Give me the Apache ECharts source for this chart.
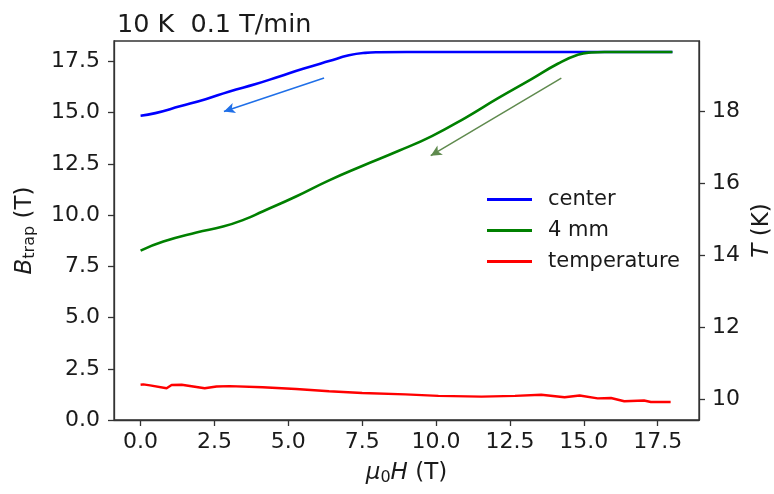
<!DOCTYPE html>
<html>
<head>
<meta charset="utf-8">
<script src="https://cdn.jsdelivr.net/npm/echarts@6/dist/echarts.min.js"></script>
<style>
  html, body { margin: 0; padding: 0; background: #fff; }
  #chart { width: 774px; height: 494px; }
</style>
</head>
<body>
<div id="chart"></div>
<script>
// Trapped field at the centre and 4 mm off-centre while ramping the applied field down (10 K, 0.1 T/min)
const centerH = [0, 0.5, 1.33, 2.2, 3.01, 3.9, 4.70, 5.5, 6.38, 7.05, 7.6, 8.06, 9, 12, 15, 18];
const centerB = [14.85, 14.98, 15.31, 15.66, 16.04, 16.40, 16.77, 17.14, 17.52, 17.80, 17.92, 17.95, 17.96, 17.96, 17.96, 17.96];

const mm4H = [0, 0.77, 1.89, 2.79, 3.5, 4.13, 5.26, 6.38, 7.50, 8.74, 9.86, 10.98, 12.10, 13.23, 14.12, 14.80, 15.25, 15.7, 18];
const mm4B = [8.27, 8.71, 9.15, 9.44, 9.78, 10.18, 10.91, 11.70, 12.40, 13.14, 13.86, 14.74, 15.71, 16.64, 17.39, 17.83, 17.94, 17.96, 17.96];

// Sample temperature (right axis, K)
const tempH = [0, 0.09, 0.32, 0.88, 1.05, 1.39, 2.17, 2.57, 3.01, 4.13, 5.26, 6.38, 7.50, 8.96, 10.08, 11.54, 12.67, 13.56, 14.35, 14.86, 15.47, 15.92, 16.37, 17.04, 17.27, 17.94];
const tempK = [10.41, 10.42, 10.39, 10.31, 10.40, 10.41, 10.31, 10.36, 10.37, 10.34, 10.29, 10.23, 10.18, 10.14, 10.10, 10.08, 10.10, 10.13, 10.06, 10.11, 10.03, 10.04, 9.95, 9.97, 9.93, 9.93];

// Ramp-direction arrows: [tailH, tailB, headH, headB]
const centerArrow = [6.21, 16.69, 2.82, 15.06];
const mm4Arrow = [14.24, 16.69, 9.82, 12.90];

// Tick labels
const xTicks = [0, 2.5, 5, 7.5, 10, 12.5, 15, 17.5];
const bTicks = [0, 2.5, 5, 7.5, 10, 12.5, 15, 17.5];
const tTicks = [10, 12, 14, 16, 18];

const zip = (xs, ys) => xs.map((x, i) => [x, ys[i]]);
const FONT = 'DejaVu Sans';
const INK = '#1a1a1a';
const FRAME = '#333';
const TICK_FS = 22;
const NAME_FS = 23;

const chart = echarts.init(document.getElementById('chart'), null, { renderer: 'canvas' });

const arrowLine = (a, color) => ({
  silent: true,
  symbol: ['none', 'arrow'],
  symbolSize: [8, 11],
  label: { show: false },
  emphasis: { disabled: true },
  animation: false,
  data: [[
    { coord: [a[0], a[1]], lineStyle: { color: color, width: 1.5, type: 'solid' } },
    { coord: [a[2], a[3]] }
  ]]
});

const nameRich = {
  i: { fontFamily: FONT, fontSize: NAME_FS, fontStyle: 'italic', color: INK },
  s: { fontFamily: FONT, fontSize: 16, color: INK, verticalAlign: 'bottom', padding: [10, 0, 0, 0] },
  n: { fontFamily: FONT, fontSize: NAME_FS, color: INK }
};

chart.setOption({
  animation: false,
  backgroundColor: '#fff',
  textStyle: { fontFamily: FONT },
  title: {
    text: '10 K  0.1 T/min',
    left: 112,
    top: 7,
    textStyle: { fontFamily: FONT, fontSize: 25.5, fontWeight: 'normal', color: INK }
  },
  grid: {
    left: 114, right: 75, top: 41, bottom: 74,
    outerBoundsMode: 'none',
    containLabel: false,
    show: true, borderColor: FRAME, borderWidth: 1.3, backgroundColor: 'transparent'
  },
  legend: {
    orient: 'vertical',
    left: 487,
    top: 189,
    padding: 0,
    icon: 'rect',
    itemWidth: 45,
    itemHeight: 3,
    itemGap: 10,
    selectedMode: false,
    textStyle: { fontFamily: FONT, fontSize: 21, color: INK, padding: [0, 0, 0, 11] },
    data: ['center', '4 mm', 'temperature']
  },
  xAxis: {
    type: 'value',
    min: -0.9,
    max: 18.9,
    splitLine: { show: false },
    axisLine: { show: true, onZero: false, lineStyle: { color: FRAME, width: 1.3 } },
    axisTick: { show: true, length: 6, lineStyle: { color: FRAME, width: 1.3 }, customValues: xTicks },
    axisLabel: {
      customValues: xTicks, margin: 11, fontFamily: FONT, fontSize: TICK_FS, color: INK,
      formatter: v => v.toFixed(1)
    },
    name: '{i|μ}{s|0}{i|H}{n| (T)}',
    nameLocation: 'middle',
    nameGap: 40,
    nameTextStyle: { rich: nameRich }
  },
  yAxis: [
    {
      type: 'value',
      position: 'left',
      min: 0,
      max: 18.5,
      splitLine: { show: false },
      axisLine: { show: true, onZero: false, lineStyle: { color: FRAME, width: 1.3 } },
      axisTick: { show: true, length: 6, lineStyle: { color: FRAME, width: 1.3 }, customValues: bTicks },
      axisLabel: {
        customValues: bTicks, margin: 14, fontFamily: FONT, fontSize: TICK_FS, color: INK,
        formatter: v => v.toFixed(1)
      },
      name: '{i|B}{s|trap}{n| (T)}',
      nameLocation: 'middle',
      nameRotate: 90,
      nameGap: 76,
      nameTextStyle: { rich: nameRich }
    },
    {
      type: 'value',
      position: 'right',
      min: 9.43,
      max: 19.95,
      splitLine: { show: false },
      axisLine: { show: true, onZero: false, lineStyle: { color: FRAME, width: 1.3 } },
      axisTick: { show: true, length: 6, lineStyle: { color: FRAME, width: 1.3 }, customValues: tTicks },
      axisLabel: {
        customValues: tTicks, margin: 13, fontFamily: FONT, fontSize: TICK_FS, color: INK,
        formatter: v => String(v)
      },
      name: '{i|T}{n| (K)}',
      nameLocation: 'middle',
      nameRotate: 90,
      nameGap: 50,
      nameTextStyle: { rich: nameRich }
    }
  ],
  series: [
    {
      name: 'center',
      type: 'line',
      yAxisIndex: 0,
      data: zip(centerH, centerB),
      symbol: 'none',
      smooth: 0.5,
      lineStyle: { color: '#0000ff', width: 2.6 },
      itemStyle: { color: '#0000ff' },
      z: 2,
      markLine: arrowLine(centerArrow, '#1f6fe8')
    },
    {
      name: '4 mm',
      type: 'line',
      yAxisIndex: 0,
      data: zip(mm4H, mm4B),
      symbol: 'none',
      smooth: 0.5,
      lineStyle: { color: '#008000', width: 2.6 },
      itemStyle: { color: '#008000' },
      z: 3,
      markLine: arrowLine(mm4Arrow, '#5f8a4e')
    },
    {
      name: 'temperature',
      type: 'line',
      yAxisIndex: 1,
      data: zip(tempH, tempK),
      symbol: 'none',
      lineStyle: { color: '#ff0000', width: 2.4 },
      itemStyle: { color: '#ff0000' },
      z: 4
    }
  ]
});
</script>
</body>
</html>
